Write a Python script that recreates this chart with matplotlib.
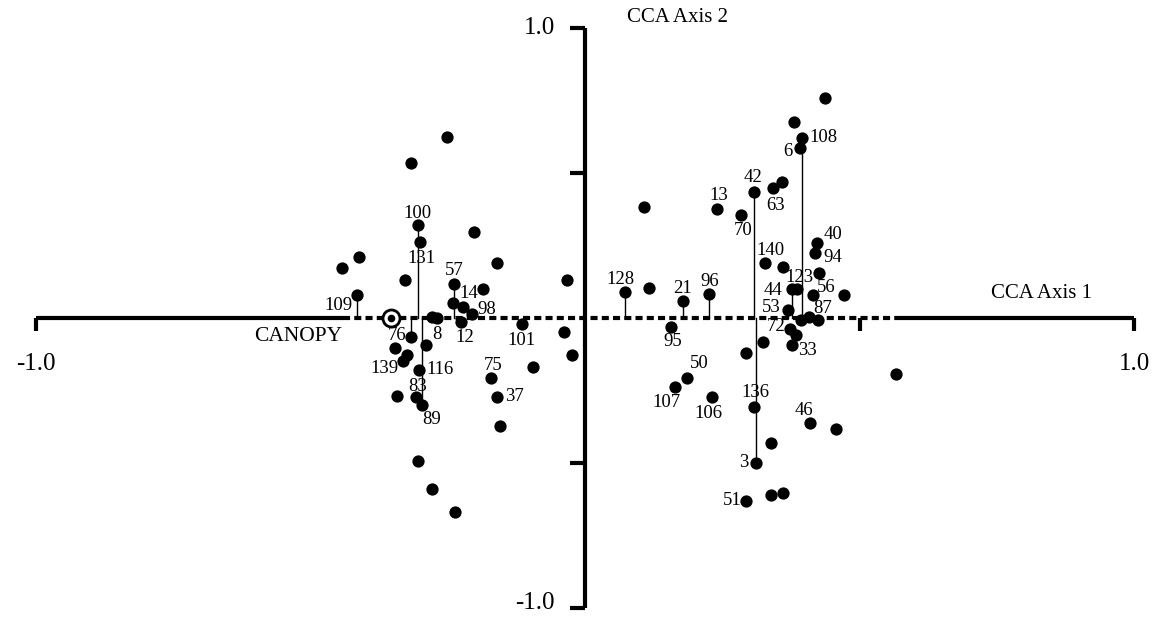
import matplotlib
matplotlib.use('Agg')
import matplotlib.pyplot as plt

plt.rcParams['font.family'] = ['Liberation Serif', 'DejaVu Serif']

# site scores on the first two CCA axes ('' = site not labelled)
site_labels = ['', '', '100', '131', '', '', '', '', '', '', '109', '57', '', '', '14', '98',
               '', '8', '12', '101', '', '', '', '76', '', '', '', '139', '116', '75', '',
               '83', '89', '37', '', '', '', '',
               '', '', '108', '6', '', '63', '42', '', '13', '70', '40', '94', '140', '',
               '', '44', '123', '56', '', '128', '', '21', '96', '53', '', '87', '', '95',
               '72', '', '33', '', '', '50', '107', '106', '136', '46', '', '', '3', '',
               '', '51', '']
site_x = [-0.252, -0.317, -0.304, -0.301, -0.203, -0.412, -0.443, -0.161, -0.328, -0.032,
          -0.415, -0.238, -0.185, -0.241, -0.223, -0.206, -0.279, -0.270, -0.226, -0.115,
          -0.038, -0.024, -0.094, -0.317, -0.290, -0.346, -0.324, -0.332, -0.303, -0.172,
          -0.342, -0.307, -0.297, -0.161, -0.154, -0.305, -0.279, -0.237,
          0.437, 0.381, 0.395, 0.392, 0.358, 0.343, 0.307, 0.108, 0.240, 0.284, 0.423,
          0.419, 0.328, 0.360, 0.426, 0.377, 0.386, 0.416, 0.472, 0.073, 0.116, 0.178,
          0.226, 0.370, 0.394, 0.408, 0.424, 0.156, 0.373, 0.384, 0.377, 0.325, 0.293,
          0.186, 0.164, 0.232, 0.307, 0.410, 0.457, 0.338, 0.311, 0.338, 0.360, 0.293,
          0.566]
site_y = [0.624, 0.533, 0.320, 0.261, 0.295, 0.211, 0.171, 0.188, 0.131, 0.131,
          0.079, 0.117, 0.099, 0.053, 0.039, 0.013, 0.004, -0.001, -0.014, -0.021,
          -0.048, -0.127, -0.168, -0.066, -0.094, -0.102, -0.127, -0.147, -0.179, -0.206,
          -0.269, -0.271, -0.299, -0.271, -0.372, -0.491, -0.589, -0.668,
          0.756, 0.676, 0.619, 0.584, 0.469, 0.446, 0.433, 0.381, 0.374, 0.355, 0.257,
          0.223, 0.190, 0.177, 0.156, 0.099, 0.099, 0.079, 0.078, 0.091, 0.102, 0.059,
          0.083, 0.028, -0.007, 0.004, -0.007, -0.030, -0.039, -0.059, -0.093, -0.082,
          -0.122, -0.206, -0.239, -0.271, -0.305, -0.362, -0.383, -0.431, -0.498, -0.609,
          -0.603, -0.629, -0.193]

# sites projected onto axis 1
stem_sites = ['109', '100', '89', '57', '76', '12', '128', '21', '96', '42', '108',
              '44', '53', '3']

# environmental variable
env_name = 'CANOPY'
env_x = -0.354
env_y = 0.0
dash_from, dash_to = -0.44, 0.564

# label offsets in pixels (dx, dy up)
label_off = {
    '100': (-1, 12), '131': (2, -16), '57': (0, 14), '14': (6, 13), '98': (15, 5),
    '8': (0, -16), '12': (4, -15), '101': (0, -16), '109': (-19, -10), '76': (-14, 2),
    '139': (-18, -8), '116': (21, 0), '83': (1, 10), '89': (10, -15), '75': (3, 12),
    '37': (18, 0), '108': (22, 1), '6': (-12, -3), '63': (2, -17), '42': (-1, 15),
    '13': (2, 14), '70': (2, -16), '40': (16, 9), '94': (18, -4), '140': (5, 12),
    '123': (3, 12), '44': (-19, -1), '56': (13, 8), '128': (-5, 12), '21': (0, 12),
    '96': (1, 12), '53': (-17, 2), '87': (14, 8), '95': (2, -15), '72': (-14, 3),
    '33': (15, -5), '50': (12, 14), '107': (-9, -15), '106': (-4, -17), '136': (2, 14),
    '46': (-6, 13), '3': (-12, 0), '51': (-14, 0),
}

fig = plt.figure(figsize=(11.57, 6.17), dpi=100)
ax = fig.add_axes([0, 0, 1, 1])
ax.set_xlim(-1.0656, 1.0419)
ax.set_ylim(-1.0293, 1.0947)
ax.axis('off')

lw = 3.0
k = 'black'
# axis 1: solid ends, dashed middle
ax.plot([-1, dash_from], [0, 0], color=k, lw=lw, solid_capstyle='butt')
ax.plot([dash_to, 1], [0, 0], color=k, lw=lw, solid_capstyle='butt')
ax.plot([dash_from, dash_to], [0, 0], color=k, lw=lw, dashes=(1.7, 1.0),
        dash_capstyle='butt')
for t in [-1, 0.5, 1]:
    ax.plot([t, t], [0, -0.045], color=k, lw=lw, solid_capstyle='butt')
# axis 2
ax.plot([0, 0], [-1, 1], color=k, lw=lw, solid_capstyle='butt')
for t in [-1, -0.5, 0.5, 1]:
    ax.plot([-0.028, 0], [t, t], color=k, lw=lw, solid_capstyle='butt')

ax.text(-0.055, 1.0, '1.0', fontsize=18, ha='right', va='center')
ax.text(-0.055, -0.98, '-1.0', fontsize=18, ha='right', va='center')
ax.text(-1.0, -0.16, '-1.0', fontsize=18, ha='center', va='center')
ax.text(1.0, -0.16, '1.0', fontsize=18, ha='center', va='center')
ax.text(0.077, 1.035, 'CCA Axis 2', fontsize=15, ha='left', va='center')
ax.text(0.74, 0.085, 'CCA Axis 1', fontsize=15, ha='left', va='center')

# projection stems
for lab in stem_sites:
    i = site_labels.index(lab)
    ax.plot([site_x[i], site_x[i]], [0, site_y[i]], color=k, lw=1.0, zorder=2)

ax.scatter(site_x, site_y, s=78, color=k, zorder=3, linewidths=0)
for lab, x, y in zip(site_labels, site_x, site_y):
    if lab:
        dx, dy = label_off.get(lab, (0, 12))
        ax.annotate(lab, (x, y), xytext=(dx, dy), textcoords='offset pixels',
                    ha='center', va='center', fontsize=13.5, zorder=4)

# environmental variable marker
ax.scatter([env_x], [env_y], s=150, facecolor='white', edgecolor=k, linewidths=2.0, zorder=5)
ax.scatter([env_x], [env_y], s=30, color=k, zorder=6, linewidths=0)
ax.annotate(env_name, (env_x, env_y), xytext=(-48, -19), textcoords='offset pixels',
            ha='right', va='center', fontsize=15.5)

fig.savefig('out.png', dpi=100)
